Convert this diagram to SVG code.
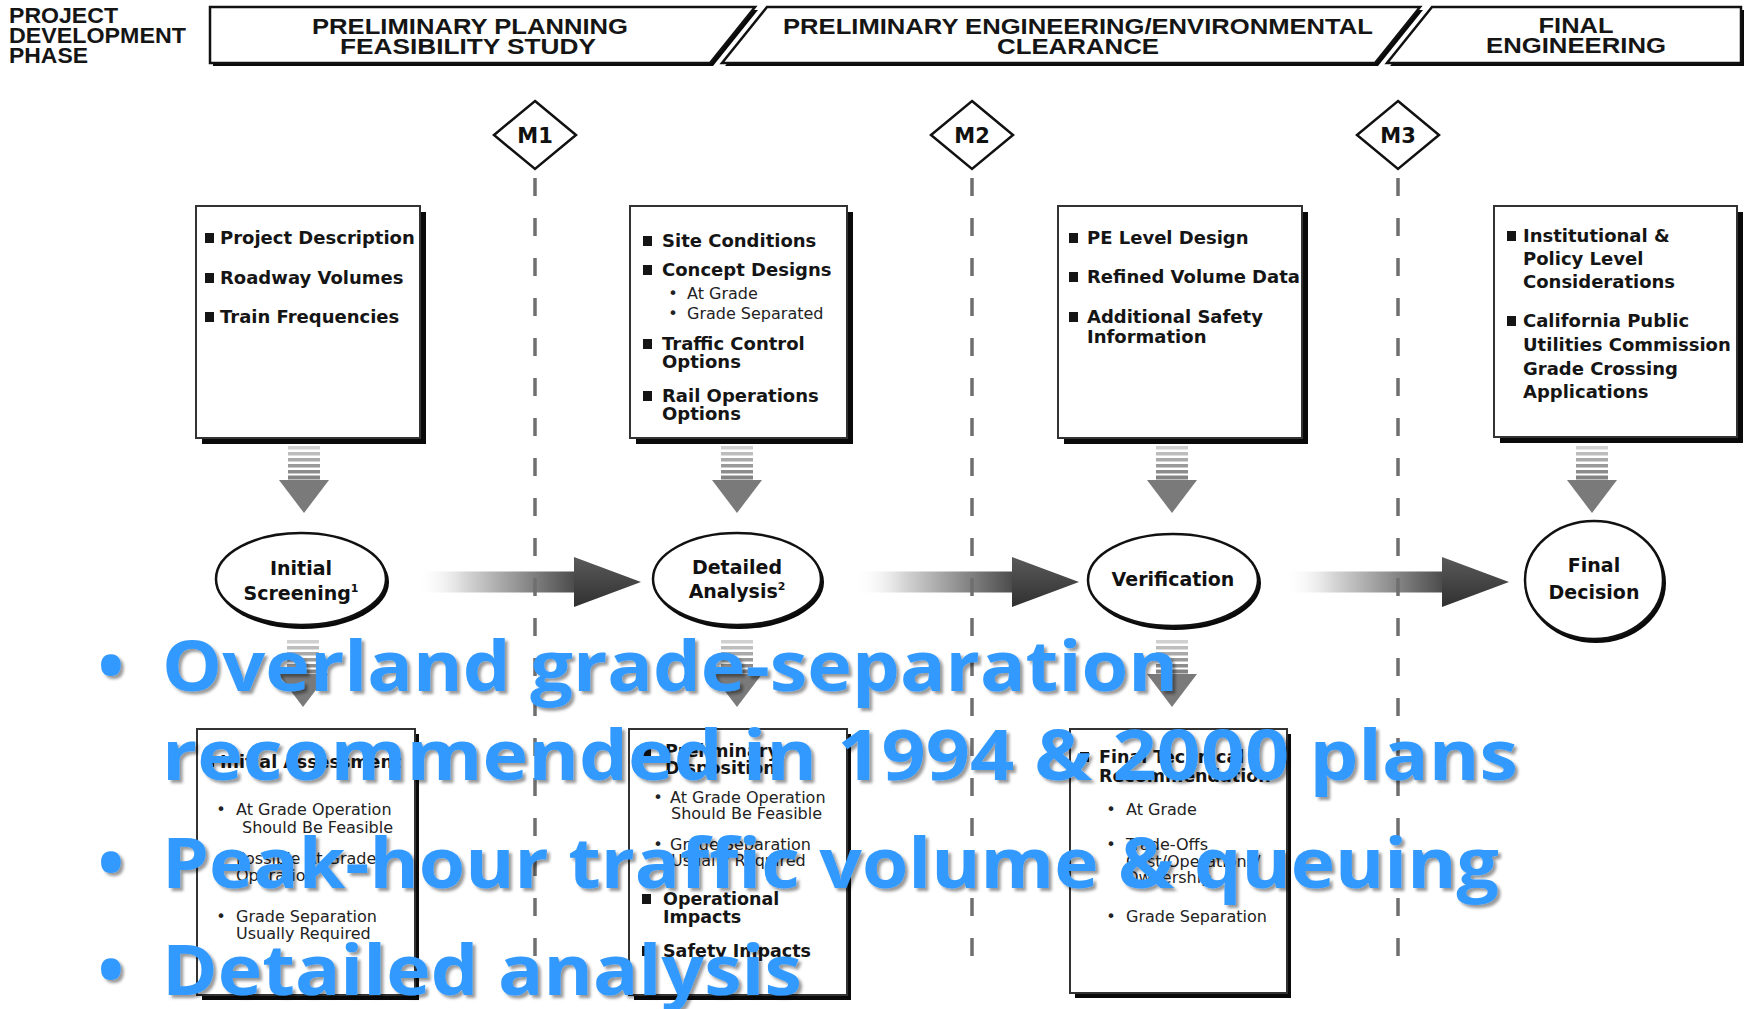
<svg xmlns="http://www.w3.org/2000/svg" width="1748" height="1009" viewBox="0 0 1748 1009">
<defs>
<style>
.hdr{font-family:"Liberation Sans",Arial,sans-serif;font-weight:bold;font-size:21.5px;fill:#151515}
.hc{text-anchor:middle}
.b{font-family:"DejaVu Sans",Verdana,sans-serif;font-weight:bold;font-size:18px;fill:#151515}
.bb{font-family:"DejaVu Sans",Verdana,sans-serif;font-weight:bold;font-size:17.5px;fill:#151515}
.s{font-family:"DejaVu Sans",Verdana,sans-serif;font-size:16px;fill:#222}
.ov{font-family:"DejaVu Sans",Verdana,sans-serif;font-weight:bold;font-size:19px;fill:#111;text-anchor:middle}
.m{font-family:"DejaVu Sans",Verdana,sans-serif;font-weight:bold;font-size:21px;fill:#111;text-anchor:middle}
.blue{font-family:"Open Sans","Noto Sans",sans-serif;font-weight:700;font-size:70px;fill:#3399ff;filter:url(#sh)}
.box{fill:#fff;stroke:#333;stroke-width:2}
.shd{fill:#0a0a0a}
.sq{fill:#151515}
.seg{fill:#fff;stroke:#111;stroke-width:2.5}
.oval{fill:#fff;stroke:#111;stroke-width:2.5}
.dash{stroke:#6f6f6f;stroke-width:3.5;stroke-dasharray:18 22;fill:none}
.dia{fill:#fff;stroke:#111;stroke-width:2.5}
</style>
<filter id="sh" x="-5%" y="-30%" width="110%" height="160%">
<feDropShadow dx="3" dy="3" stdDeviation="1.6" flood-color="#000" flood-opacity="0.4"/>
</filter>
<linearGradient id="shaftG" x1="0" y1="0" x2="1" y2="0">
<stop offset="0" stop-color="#ffffff" stop-opacity="0"/>
<stop offset="0.3" stop-color="#d8d8d8"/>
<stop offset="1" stop-color="#4a4a4a"/>
</linearGradient>
<linearGradient id="headG" x1="0" y1="0" x2="0" y2="1">
<stop offset="0" stop-color="#5a5a5a"/>
<stop offset="1" stop-color="#303030"/>
</linearGradient>
<symbol id="harrow" overflow="visible">
<rect x="0" y="-10.5" width="160" height="21" fill="url(#shaftG)"/>
<polygon points="158,-25 225,0 158,25" fill="url(#headG)"/>
</symbol>
<symbol id="darrow" overflow="visible">
<rect x="-16" y="0" width="32" height="3.5" fill="#d0d0d0"/>
<rect x="-16" y="6" width="32" height="3.5" fill="#bdbdbd"/>
<rect x="-16" y="12" width="32" height="3.5" fill="#aaaaaa"/>
<rect x="-16" y="18" width="32" height="3.5" fill="#9a9a9a"/>
<rect x="-16" y="24" width="32" height="3.5" fill="#8c8c8c"/>
<rect x="-16" y="29.5" width="32" height="4" fill="#838383"/>
<polygon points="-25,34 25,34 0,67" fill="#7a7a7a"/>
</symbol>
</defs>
<rect width="1748" height="1009" fill="#fff"/>

<g id="header">
<text class="hdr" x="9" y="23" textLength="109" lengthAdjust="spacingAndGlyphs">PROJECT</text>
<text class="hdr" x="9" y="43" textLength="177" lengthAdjust="spacingAndGlyphs">DEVELOPMENT</text>
<text class="hdr" x="9" y="63" textLength="79" lengthAdjust="spacingAndGlyphs">PHASE</text>
<g id="phase1">
<polygon class="shd" points="213,10 758,10 713,66 213,66"/>
<polygon class="seg" points="210,7 755,7 710,63 210,63"/>
<text class="hdr hc" x="470" y="34" textLength="316" lengthAdjust="spacingAndGlyphs">PRELIMINARY PLANNING</text>
<text class="hdr hc" x="468" y="54" textLength="256" lengthAdjust="spacingAndGlyphs">FEASIBILITY STUDY</text>
</g>
<g id="phase2">
<polygon class="shd" points="770,10 1423,10 1378,66 725,66"/>
<polygon class="seg" points="767,7 1420,7 1375,63 722,63"/>
<text class="hdr hc" x="1078" y="34" textLength="590" lengthAdjust="spacingAndGlyphs">PRELIMINARY ENGINEERING/ENVIRONMENTAL</text>
<text class="hdr hc" x="1078" y="54" textLength="162" lengthAdjust="spacingAndGlyphs">CLEARANCE</text>
</g>
<g id="phase3">
<polygon class="shd" points="1435,10 1744,10 1744,66 1390,66"/>
<polygon class="seg" points="1432,7 1741,7 1741,63 1387,63"/>
<text class="hdr hc" x="1576" y="33" textLength="75" lengthAdjust="spacingAndGlyphs">FINAL</text>
<text class="hdr hc" x="1576" y="53" textLength="180" lengthAdjust="spacingAndGlyphs">ENGINEERING</text>
</g>
</g>

<g id="connectors">
<use href="#harrow" x="416" y="582"/>
<use href="#harrow" x="854" y="582"/>
<use href="#harrow" x="1284" y="582"/>
<use href="#darrow" x="304" y="446"/>
<use href="#darrow" x="737" y="446"/>
<use href="#darrow" x="1172" y="446"/>
<use href="#darrow" x="1592" y="446"/>
<use href="#darrow" x="303" y="640"/>
<use href="#darrow" x="737" y="640"/>
<use href="#darrow" x="1172" y="640"/>
<line class="dash" x1="535" y1="178" x2="535" y2="958"/>
<line class="dash" x1="972" y1="178" x2="972" y2="958"/>
<line class="dash" x1="1398" y1="178" x2="1398" y2="958"/>
</g>

<g id="M1">
<polygon class="dia" points="535,101 576,135 535,169 494,135"/>
<text class="m" x="535" y="143">M1</text>
</g>
<g id="M2">
<polygon class="dia" points="972,101 1013,135 972,169 931,135"/>
<text class="m" x="972" y="143">M2</text>
</g>
<g id="M3">
<polygon class="dia" points="1398,101 1439,135 1398,169 1357,135"/>
<text class="m" x="1398" y="143">M3</text>
</g>

<g id="box-inputs-1">
<rect class="shd" x="202" y="212" width="224" height="232"/>
<rect class="box" x="196" y="206" width="224" height="232"/>
<rect class="sq" x="205" y="233" width="9" height="10"/>
<text class="b" x="220" y="244">Project Description</text>
<rect class="sq" x="205" y="273" width="9" height="10"/>
<text class="b" x="220" y="284">Roadway Volumes</text>
<rect class="sq" x="205" y="312" width="9" height="10"/>
<text class="b" x="220" y="323">Train Frequencies</text>
</g>

<g id="box-inputs-2">
<rect class="shd" x="636" y="212" width="217" height="232"/>
<rect class="box" x="630" y="206" width="217" height="232"/>
<rect class="sq" x="643" y="236" width="9" height="10"/>
<text class="b" x="662" y="247">Site Conditions</text>
<rect class="sq" x="643" y="265" width="9" height="10"/>
<text class="b" x="662" y="276">Concept Designs</text>
<text class="s" x="673" y="299" text-anchor="middle">•</text>
<text class="s" x="687" y="299">At Grade</text>
<text class="s" x="673" y="319" text-anchor="middle">•</text>
<text class="s" x="687" y="319">Grade Separated</text>
<rect class="sq" x="643" y="339" width="9" height="10"/>
<text class="b" x="662" y="350">Traffic Control</text>
<text class="b" x="662" y="368">Options</text>
<rect class="sq" x="643" y="391" width="9" height="10"/>
<text class="b" x="662" y="402">Rail Operations</text>
<text class="b" x="662" y="420">Options</text>
</g>

<g id="box-inputs-3">
<rect class="shd" x="1064" y="212" width="244" height="232"/>
<rect class="box" x="1058" y="206" width="244" height="232"/>
<rect class="sq" x="1069" y="233" width="9" height="10"/>
<text class="b" x="1087" y="244">PE Level Design</text>
<rect class="sq" x="1069" y="272" width="9" height="10"/>
<text class="b" x="1087" y="283">Refined Volume Data</text>
<rect class="sq" x="1069" y="312" width="9" height="10"/>
<text class="b" x="1087" y="323">Additional Safety</text>
<text class="b" x="1087" y="343">Information</text>
</g>

<g id="box-inputs-4">
<rect class="shd" x="1500" y="212" width="243" height="231"/>
<rect class="box" x="1494" y="206" width="243" height="231"/>
<rect class="sq" x="1507" y="231" width="9" height="10"/>
<text class="b" x="1523" y="242">Institutional &amp;</text>
<text class="b" x="1523" y="265">Policy Level</text>
<text class="b" x="1523" y="288">Considerations</text>
<rect class="sq" x="1507" y="316" width="9" height="10"/>
<text class="b" x="1523" y="327">California Public</text>
<text class="b" x="1523" y="351">Utilities Commission</text>
<text class="b" x="1523" y="375">Grade Crossing</text>
<text class="b" x="1523" y="398">Applications</text>
</g>

<g id="initial-screening">
<ellipse class="shd" cx="303" cy="582" rx="86" ry="47"/>
<ellipse class="oval" cx="301" cy="579" rx="85" ry="46"/>
<text class="ov" x="301" y="575">Initial</text>
<text class="ov" x="301" y="600">Screening<tspan font-size="11" dy="-8">1</tspan></text>
</g>
<g id="detailed-analysis">
<ellipse class="shd" cx="739" cy="582" rx="85" ry="47"/>
<ellipse class="oval" cx="737" cy="579" rx="84" ry="46"/>
<text class="ov" x="737" y="574">Detailed</text>
<text class="ov" x="737" y="598">Analysis<tspan font-size="11" dy="-8">2</tspan></text>
</g>
<g id="verification">
<ellipse class="shd" cx="1175" cy="583" rx="86" ry="47"/>
<ellipse class="oval" cx="1173" cy="580" rx="85" ry="46"/>
<text class="ov" x="1173" y="586">Verification</text>
</g>
<g id="final-decision">
<ellipse class="shd" cx="1596" cy="583" rx="70" ry="60"/>
<ellipse class="oval" cx="1594" cy="580" rx="69" ry="59"/>
<text class="ov" x="1594" y="572">Final</text>
<text class="ov" x="1594" y="599">Decision</text>
</g>

<g id="box-outcome-1">
<rect class="shd" x="202" y="734" width="217" height="266"/>
<rect class="box" x="197" y="729" width="218" height="266"/>
<rect class="sq" x="205" y="757" width="9" height="10"/>
<text class="bb" x="220" y="768">Initial Assessment</text>
<text class="s" x="221" y="815" text-anchor="middle">•</text>
<text class="s" x="236" y="815">At Grade Operation</text>
<text class="s" x="242" y="833">Should Be Feasible</text>
<text class="s" x="221" y="864" text-anchor="middle">•</text>
<text class="s" x="236" y="864">Possible At Grade</text>
<text class="s" x="236" y="881">Operation</text>
<text class="s" x="221" y="922" text-anchor="middle">•</text>
<text class="s" x="236" y="922">Grade Separation</text>
<text class="s" x="236" y="939">Usually Required</text>
</g>

<g id="box-outcome-2">
<rect class="shd" x="634" y="734" width="217" height="266"/>
<rect class="box" x="629" y="729" width="218" height="266"/>
<rect class="sq" x="642" y="747" width="9" height="10"/>
<text class="bb" x="665" y="757">Preliminary</text>
<text class="bb" x="665" y="774">Disposition</text>
<text class="s" x="658" y="803" text-anchor="middle">•</text>
<text class="s" x="670" y="803">At Grade Operation</text>
<text class="s" x="671" y="819">Should Be Feasible</text>
<text class="s" x="658" y="850" text-anchor="middle">•</text>
<text class="s" x="670" y="850">Grade Separation</text>
<text class="s" x="671" y="866">Usually Required</text>
<rect class="sq" x="642" y="894" width="9" height="10"/>
<text class="bb" x="663" y="905">Operational</text>
<text class="bb" x="663" y="923">Impacts</text>
<rect class="sq" x="642" y="946" width="9" height="10"/>
<text class="bb" x="663" y="957">Safety Impacts</text>
</g>

<g id="box-outcome-3">
<rect class="shd" x="1075" y="734" width="216" height="264"/>
<rect class="box" x="1070" y="729" width="217" height="264"/>
<rect class="sq" x="1080" y="752" width="9" height="10"/>
<text class="bb" x="1099" y="763">Final Technical</text>
<text class="bb" x="1099" y="782">Recommendation</text>
<text class="s" x="1111" y="815" text-anchor="middle">•</text>
<text class="s" x="1126" y="815">At Grade</text>
<text class="s" x="1111" y="850" text-anchor="middle">•</text>
<text class="s" x="1126" y="850">Trade-Offs</text>
<text class="s" x="1126" y="867">Cost/Operations/</text>
<text class="s" x="1126" y="883">Ownership</text>
<text class="s" x="1111" y="922" text-anchor="middle">•</text>
<text class="s" x="1126" y="922">Grade Separation</text>
</g>

<g id="overlay-bullets">
<text class="blue" x="111" y="691" text-anchor="middle">•</text>
<text class="blue" x="162" y="691" textLength="1016" lengthAdjust="spacingAndGlyphs">Overland grade-separation</text>
<text class="blue" x="162" y="780" textLength="1356" lengthAdjust="spacingAndGlyphs">recommended in 1994 &amp; 2000 plans</text>
<text class="blue" x="111" y="888" text-anchor="middle">•</text>
<text class="blue" x="162" y="888" textLength="1337" lengthAdjust="spacingAndGlyphs">Peak-hour traffic volume &amp; queuing</text>
<text class="blue" x="111" y="995" text-anchor="middle">•</text>
<text class="blue" x="162" y="995" textLength="640" lengthAdjust="spacingAndGlyphs">Detailed analysis</text>
</g>
</svg>
